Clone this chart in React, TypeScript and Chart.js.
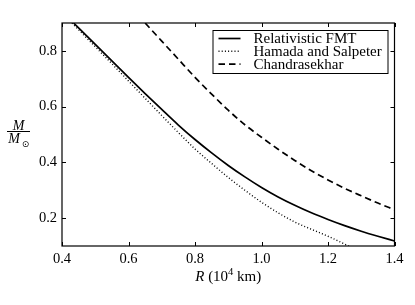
import React, { useEffect, useRef } from 'react';
import { Chart, registerables } from 'chart.js';

Chart.register(...registerables);

const seriesLabels = ['Relativistic FMT', 'Hamada and Salpeter', 'Chandrasekhar'];

const radiusFMT = [0.435, 0.5, 0.55, 0.6, 0.65, 0.7, 0.75, 0.8, 0.85, 0.9, 0.95, 1.0, 1.05, 1.1, 1.15, 1.2, 1.25, 1.3, 1.35, 1.4];
const massFMT = [0.9, 0.823, 0.764, 0.705, 0.647, 0.59, 0.534, 0.482, 0.434, 0.389, 0.348, 0.31, 0.276, 0.246, 0.219, 0.195, 0.173, 0.153, 0.135, 0.118];

const radiusHS = [0.43, 0.5, 0.55, 0.6, 0.65, 0.7, 0.75, 0.8, 0.85, 0.9, 0.95, 1.0, 1.05, 1.1, 1.15, 1.2, 1.25, 1.27];
const massHS = [0.9, 0.815, 0.754, 0.692, 0.63, 0.568, 0.507, 0.448, 0.396, 0.346, 0.3, 0.257, 0.219, 0.186, 0.16, 0.135, 0.107, 0.095];

const radiusCh = [0.65, 0.7, 0.75, 0.8, 0.85, 0.9, 0.95, 1.0, 1.05, 1.1, 1.15, 1.2, 1.25, 1.3, 1.35, 1.4];
const massCh = [0.9, 0.835, 0.77, 0.705, 0.645, 0.587, 0.535, 0.49, 0.447, 0.407, 0.37, 0.337, 0.307, 0.28, 0.254, 0.23];

const xTicks = [0.4, 0.6, 0.8, 1.0, 1.2, 1.4];
const yTicks = [0.2, 0.4, 0.6, 0.8];
const xRange = [0.4, 1.4];
const yRange = [0.1, 0.9];

const SERIF = '"Liberation Serif", "DejaVu Serif", serif';

const pts = (xs: number[], ys: number[]) => xs.map((x, i) => ({ x, y: ys[i] }));

const framePlugin = {
  id: 'frameAndText',
  afterDraw(chart: any) {
    const { ctx, chartArea: a, scales } = chart;
    const xs = scales.x;
    const ys = scales.y;
    ctx.save();
    // frame
    ctx.strokeStyle = '#000';
    ctx.lineWidth = 1.2;
    ctx.strokeRect(a.left, a.top, a.right - a.left, a.bottom - a.top);
    // inward ticks
    ctx.lineWidth = 1;
    const tl = 4;
    ctx.beginPath();
    xTicks.forEach((v) => {
      const px = Math.round(xs.getPixelForValue(v)) + 0.5;
      ctx.moveTo(px, a.bottom);
      ctx.lineTo(px, a.bottom - tl);
      ctx.moveTo(px, a.top);
      ctx.lineTo(px, a.top + tl);
    });
    yTicks.forEach((v) => {
      const py = Math.round(ys.getPixelForValue(v)) + 0.5;
      ctx.moveTo(a.left, py);
      ctx.lineTo(a.left + tl, py);
      ctx.moveTo(a.right, py);
      ctx.lineTo(a.right - tl, py);
    });
    ctx.stroke();

    // legend box
    const lx = 212.5, ly = 30, lw = 175, lh = 43;
    ctx.fillStyle = '#fff';
    ctx.fillRect(lx, ly, lw, lh);
    ctx.strokeStyle = '#000';
    ctx.lineWidth = 1;
    ctx.strokeRect(lx + 0.5, ly + 0.5, lw, lh);
    chart.data.datasets.forEach((ds: any, i: number) => {
      const rowY = ly + 8.5 + i * 12.8;
      ctx.beginPath();
      ctx.setLineDash(ds.borderDash || []);
      ctx.lineWidth = ds.borderWidth;
      ctx.strokeStyle = ds.borderColor;
      ctx.moveTo(lx + 6, rowY);
      ctx.lineTo(lx + 28, rowY);
      ctx.stroke();
      ctx.setLineDash([]);
      ctx.fillStyle = '#000';
      ctx.font = `15px ${SERIF}`;
      ctx.textBaseline = 'middle';
      ctx.textAlign = 'left';
      ctx.fillText(ds.label, lx + 41, rowY + 0.5);
    });

    // x title: R (10^4 km)
    ctx.fillStyle = '#000';
    ctx.textBaseline = 'alphabetic';
    ctx.textAlign = 'left';
    const fItal = `italic 15px ${SERIF}`;
    const fNorm = `15px ${SERIF}`;
    const fSup = `10.5px ${SERIF}`;
    const parts = [
      { t: 'R', f: fItal, dy: 0 },
      { t: ' (10', f: fNorm, dy: 0 },
      { t: '4', f: fSup, dy: -6 },
      { t: ' km)', f: fNorm, dy: 0 },
    ];
    let total = 0;
    parts.forEach((p) => { ctx.font = p.f; total += ctx.measureText(p.t).width; });
    let cx = (a.left + a.right) / 2 - total / 2;
    const base = 280.5;
    parts.forEach((p) => {
      ctx.font = p.f;
      ctx.fillText(p.t, cx, base + p.dy);
      cx += ctx.measureText(p.t).width;
    });

    // y title: M / M_sun
    ctx.font = `italic 14px ${SERIF}`;
    ctx.textAlign = 'center';
    ctx.fillText('M', 18.5, 129.5);
    ctx.beginPath();
    ctx.lineWidth = 1;
    ctx.moveTo(7, 131.5);
    ctx.lineTo(30, 131.5);
    ctx.stroke();
    ctx.fillText('M', 14, 143);
    ctx.font = `9px "DejaVu Sans", ${SERIF}`;
    ctx.textBaseline = 'middle';
    ctx.fillText('\u2299', 25.5, 145);
    ctx.restore();
  },
};

export default function App() {
  const ref = useRef<HTMLCanvasElement | null>(null);
  useEffect(() => {
    if (!ref.current) return;
    const common = { borderColor: '#000', backgroundColor: '#000', pointRadius: 0, fill: false, cubicInterpolationMode: 'monotone' as const, clip: 0 };
    const chart = new Chart(ref.current, {
      type: 'line',
      data: {
        datasets: [
          { ...common, label: seriesLabels[0], data: pts(radiusFMT, massFMT), borderWidth: 1.7, borderDash: [] },
          { ...common, label: seriesLabels[1], data: pts(radiusHS, massHS), borderWidth: 1.4, borderDash: [1, 2.2] },
          { ...common, label: seriesLabels[2], data: pts(radiusCh, massCh), borderWidth: 1.7, borderDash: [6.5, 4] },
        ],
      },
      options: {
        animation: false,
        responsive: false,
        devicePixelRatio: 1,
        layout: { padding: { left: 0, right: 20.5, top: 23, bottom: 0 } },
        plugins: { legend: { display: false }, tooltip: { enabled: false } },
        scales: {
          x: {
            type: 'linear',
            min: xRange[0],
            max: xRange[1],
            afterBuildTicks: (s: any) => { s.ticks = xTicks.map((v) => ({ value: v })); },
            afterFit: (s: any) => { s.height = 59; },
            grid: { display: false, drawTicks: false },
            border: { display: false },
            ticks: {
              autoSkip: false,
              maxRotation: 0,
              padding: 4,
              color: '#000',
              font: { family: SERIF, size: 14.5 },
              callback: (v: any) => Number(v).toFixed(1),
            },
          },
          y: {
            type: 'linear',
            min: yRange[0],
            max: yRange[1],
            afterBuildTicks: (s: any) => { s.ticks = yTicks.map((v) => ({ value: v })); },
            afterFit: (s: any) => { s.width = 62; },
            grid: { display: false, drawTicks: false },
            border: { display: false },
            ticks: {
              autoSkip: false,
              padding: 5,
              color: '#000',
              font: { family: SERIF, size: 14.5 },
              callback: (v: any) => Number(v).toFixed(1),
            },
          },
        },
      },
      plugins: [framePlugin],
    });
    return () => chart.destroy();
  }, []);
  return (
    <div style={{ position: 'absolute', left: 0, top: 0, width: 415, height: 305, background: '#fff' }}>
      <canvas ref={ref} width={415} height={305} style={{ display: 'block' }} />
    </div>
  );
}
